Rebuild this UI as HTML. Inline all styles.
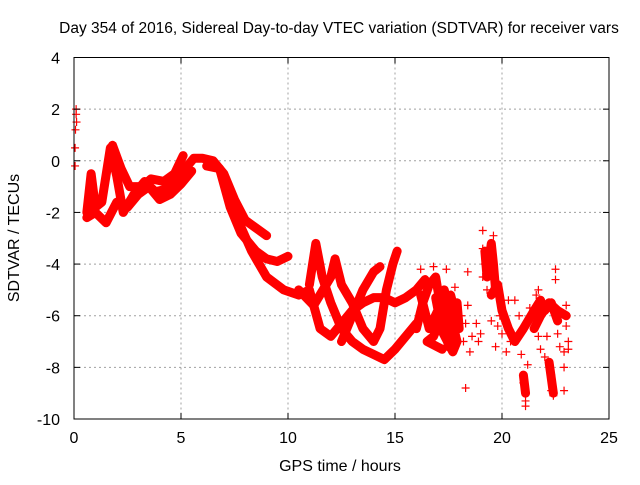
<!DOCTYPE html>
<html><head><meta charset="utf-8"><style>
body{margin:0;background:#fff;}
svg text{font-family:"Liberation Sans",sans-serif;font-size:16px;fill:#000;}
</style></head><body>
<svg id="chart" width="640" height="480" viewBox="0 0 640 480" xmlns="http://www.w3.org/2000/svg">
<text x="339" y="33" text-anchor="middle" style="font-size:15.5px">Day 354 of 2016, Sidereal Day-to-day VTEC variation (SDTVAR) for receiver vars</text>
<text x="340" y="471" text-anchor="middle">GPS time / hours</text>
<text transform="translate(19,238) rotate(-90)" text-anchor="middle">SDTVAR / TECUs</text>
<g id="grid"></g>
<g id="marks"></g>
<rect x="74" y="57.5" width="535" height="361.5" fill="none" stroke="#000" stroke-width="1"/>
<g id="axes"></g>
</svg>
<script>
const xTicks=[0,5,10,15,20,25];
const yTicks=[4,2,0,-2,-4,-6,-8,-10];
const trackA=[[0.6,-2],[0.8,-0.5],[1.0,-1.8],[1.3,-1.6],[1.7,0.5],[2.0,-0.6],[2.3,-2],[2.8,-1.3],[3.3,-0.8],[3.8,-1.2],[4.3,-1.1],[4.8,-0.8],[5.2,-0.3],[5.6,0.1],[6.0,0.1],[6.5,0],[7.0,-0.5],[7.5,-1.5],[8.0,-2.3],[8.5,-2.6],[9.0,-2.9]];
const trackI=[[0.6,-2.2],[1.0,-2.0],[1.5,-2.4],[2.0,-1.6],[2.5,-1.8],[3.0,-1.3],[3.5,-1.0],[4.0,-1.5],[4.5,-1.3],[5.0,-0.9],[5.5,-0.4]];
const trackJ=[[1.8,0.6],[2.2,-0.3],[2.6,-1.0],[3.2,-1.0],[3.6,-0.7],[4.2,-0.8],[4.7,-0.5],[5.1,0.2]];
const trackB=[[6.2,-0.2],[6.8,-0.3],[7.3,-1.8],[7.8,-2.8],[8.5,-3.5],[9.0,-3.8],[9.5,-3.9],[10.0,-3.7]];
const trackC=[[7.5,-2],[8.3,-3.5],[9.0,-4.5],[9.8,-5],[10.5,-5.2],[11.0,-5],[11.5,-6.5],[12,-6.8],[12.5,-6.3],[13.0,-5.8],[13.5,-5.5],[14,-5.3],[14.5,-5.3],[15,-5.5],[15.5,-5.3],[16,-5.0],[16.4,-4.6]];
const trackD=[[11.0,-4.8],[11.3,-3.2],[11.6,-4.5],[12.0,-5.5],[12.5,-6.5],[13,-7.0],[13.5,-7.3],[14,-7.5],[14.5,-7.7],[15,-7.3],[15.5,-6.8],[16,-6.3]];
const trackE=[[10.5,-5],[11.2,-5.6],[12.0,-4.5],[12.2,-3.8],[12.5,-4.8],[13,-5.5],[13.5,-6.5],[14,-7],[14.3,-6.5],[14.6,-5],[14.9,-4],[15.1,-3.5]];
const trackF=[[12.5,-7],[13,-6],[13.5,-5],[14,-4.3],[14.3,-4.1]];
const trackG=[[16.0,-6.5],[16.3,-5.5],[16.6,-4.8],[16.9,-4.5],[17.1,-5.5],[17.3,-6.2],[17.5,-7.2],[17.7,-6.5],[17.9,-5.5],[18.0,-6.5],[17.6,-5.2],[16.8,-6.8],[16.5,-7.0],[17.2,-7.3]];
const trackK=[[16.2,-5.2],[16.6,-6.5],[17.0,-5.8],[17.3,-5.0],[17.6,-6.0],[17.9,-7.0],[17.7,-7.4],[17.2,-6.6],[16.9,-5.3]];
const trackH=[[19.5,-5.2],[19.8,-4.8],[20.0,-5.8],[20.3,-6.5],[20.6,-7.0],[21.0,-6.5],[21.5,-5.8],[21.8,-5.4],[22.0,-5.8],[22.3,-5.5],[22.6,-6.2]];
const trackL=[[21.5,-6.5],[21.8,-6.0],[22.2,-5.5],[22.6,-5.8],[23.0,-6.0]];
const trackM=[[19.2,-3.5],[19.3,-4.5],[19.5,-3.2],[19.6,-4.0],[19.7,-5.0]];
const trackN=[[21.0,-8.3],[21.1,-9.0]];
const trackO=[[22.2,-7.8],[22.4,-9.0]];
const scatter=[[0.05,-0.2],[0.05,0.5],[0.07,1.2],[0.1,1.8],[0.12,1.5],[0.1,2.0],[16.2,-4.2],[16.8,-4.1],[17.4,-4.2],[17.8,-4.9],[18.1,-6],[18.2,-7.0],[18.3,-6.3],[18.4,-5.6],[18.4,-4.3],[18.5,-7.4],[18.3,-8.8],[18.6,-6.8],[18.8,-6.3],[18.9,-7.0],[19.0,-6.7],[19.1,-2.7],[19.1,-3.4],[19.2,-4.0],[19.1,-4.5],[19.3,-5.0],[19.4,-3.8],[19.6,-2.9],[19.6,-4.3],[19.5,-6.2],[19.7,-7.2],[19.8,-6.4],[19.9,-6.0],[20.0,-6.7],[20.2,-7.4],[20.4,-7.0],[20.5,-6.8],[20.6,-5.4],[20.8,-6.0],[20.9,-7.5],[21.0,-8.3],[21.0,-8.6],[21.1,-9.3],[21.1,-9.5],[21.2,-7.9],[21.3,-5.7],[21.6,-5.2],[21.7,-6.8],[21.8,-7.3],[22.0,-7.6],[22.1,-6.8],[22.2,-7.8],[22.3,-8.3],[22.3,-8.9],[22.4,-9.1],[22.5,-4.2],[22.5,-4.6],[22.6,-6.7],[22.7,-7.2],[22.7,-5.9],[22.9,-7.4],[22.9,-8.0],[22.9,-8.9],[23.0,-6.4],[23.0,-5.6],[23.1,-7.0],[23.1,-7.3],[21.7,-5.0],[20.3,-5.4]];
const tracks=[trackA,trackI,trackJ,trackB,trackC,trackD,trackE,trackF,trackG,trackK,trackH,trackL,trackM,trackN,trackO];
const NS='http://www.w3.org/2000/svg';
const X=v=>74+v*(535/25);
const Y=v=>57.5+(4-v)*(361.5/14);
const grid=document.getElementById('grid'),axes=document.getElementById('axes'),marks=document.getElementById('marks');
function mk(tag,attrs,parent){const e=document.createElementNS(NS,tag);for(const k in attrs)e.setAttribute(k,attrs[k]);parent.appendChild(e);return e;}
xTicks.forEach(t=>{
 if(t>0&&t<25){const g=mk('line',{x1:X(t),x2:X(t),y1:57.5,y2:419,stroke:'#a0a0a0','stroke-dasharray':'2,3'},grid);
 
 }
 const tk=mk('line',{x1:X(t),x2:X(t),y1:419,y2:413,stroke:'#000'},axes);
 
 
 const tk2=mk('line',{x1:X(t),x2:X(t),y1:57.5,y2:63.5,stroke:'#000'},axes);
 
 
 const l=mk('text',{x:X(t),y:443,'text-anchor':'middle'},axes);l.textContent=t;
 
 
});
yTicks.forEach(t=>{
 if(t<4&&t>-10){const g=mk('line',{x1:74,x2:609,y1:Y(t),y2:Y(t),stroke:'#a0a0a0','stroke-dasharray':'2,3'},grid);
 
 }
 const tk=mk('line',{x1:74,x2:80,y1:Y(t),y2:Y(t),stroke:'#000'},axes);
 
 
 const tk2=mk('line',{x1:603,x2:609,y1:Y(t),y2:Y(t),stroke:'#000'},axes);
 
 
 const l=mk('text',{x:60,y:Y(t)+6,'text-anchor':'end'},axes);l.textContent=t;
 
 
});
tracks.forEach(tr=>{
 const p=mk('polyline',{points:tr.map(d=>X(d[0])+','+Y(d[1])).join(' '),fill:'none',stroke:'#ff0000','stroke-width':9,'stroke-linejoin':'round','stroke-linecap':'round'},marks);
 
 
});
const pts=tracks.flat().concat(scatter);
pts.forEach(d=>{
 const x=X(d[0]),y=Y(d[1]);
 const m=mk('path',{d:`M${x-4},${y}H${x+4}M${x},${y-4}V${y+4}`,stroke:'#ff0000','stroke-width':1.2,fill:'none'},marks);
 
 
});
</script>
</body></html>
